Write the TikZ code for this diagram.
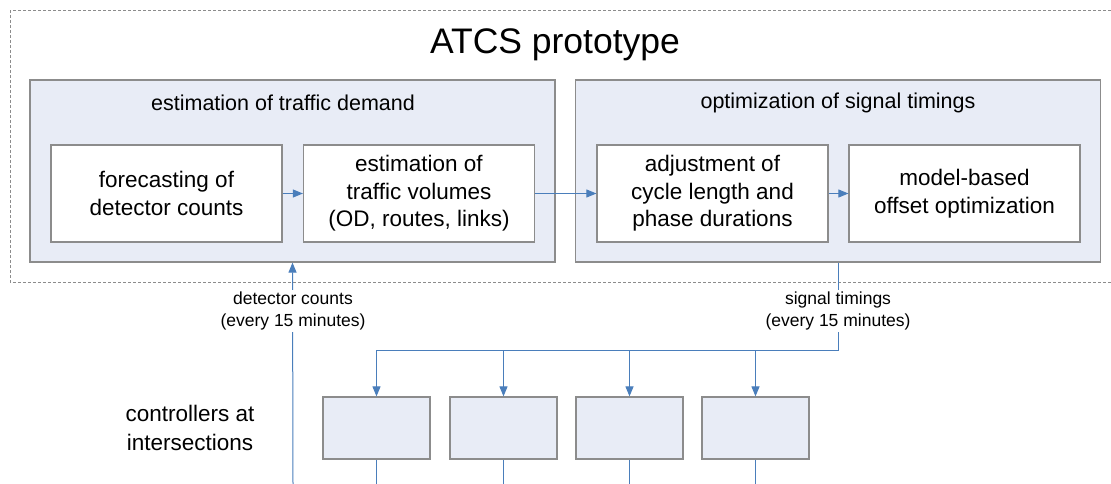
\documentclass[tikz,border=0pt]{standalone}
\usepackage{fontspec}
\setmainfont{Liberation Sans}
\usetikzlibrary{arrows.meta}
\definecolor{boxline}{HTML}{8C8C8C}
\definecolor{groupfill}{HTML}{E8ECF6}
\definecolor{flowblue}{HTML}{4A7EBB}
\tikzset{
  group/.style={draw=boxline, fill=groupfill, line width=1.2pt, minimum width=525pt, minimum height=182pt, inner sep=0pt},
  task/.style={draw=boxline, fill=white, line width=1.2pt, minimum width=231pt, minimum height=97pt, align=center, inner sep=0pt, font=\fontsize{22.5}{27.5}\selectfont},
  ctrlbox/.style={draw=boxline, fill=groupfill, line width=1.2pt, minimum width=107pt, minimum height=62pt, inner sep=0pt},
  flow/.style={draw=flowblue, line width=1pt},
  tip/.style={-{Triangle[length=10pt,width=8pt]}},
  rate/.style={fill=white, align=center, inner sep=2pt, font=\fontsize{17.5}{22}\selectfont}
}
\begin{document}
\begin{tikzpicture}[x=1pt,y=-1pt]
\useasboundingbox (0,0) rectangle (1111,484);

% Draw the prototype frame
\draw[boxline, line width=1pt, dash pattern=on 3pt off 2pt] (1111,11) -- (10,11) -- (10,282) -- (1111,282);
\node[font=\fontsize{35.5}{40}\selectfont] (title) at (555,45) {ATCS prototype};

% Groups
\node[group] (demand) at (292.5,171) {};
\node[group] (timings) at (838,171) {};
\node[font=\fontsize{21.5}{26}\selectfont] (demandtitle) at (283,103) {estimation of traffic demand};
\node[font=\fontsize{21.5}{26}\selectfont] (timingstitle) at (838,103) {optimization of signal timings};

% Tasks
\node[task] (forecast) at (166.5,193.5) {forecasting of\\detector counts};
\node[task] (volumes) at (419,193.5) {estimation of\\traffic volumes\\(OD, routes, links)};
\node[task] (cycle) at (712.5,193.5) {adjustment of\\cycle length and\\phase durations};
\node[task] (offset) at (964.5,193.5) {model-based\\offset optimization};

% Arrows between tasks
\draw[flow, tip] (forecast) -- (volumes);
\draw[flow, tip] (volumes) -- (cycle);
\draw[flow, tip] (cycle) -- (offset);

% Controllers
\node[align=center, font=\fontsize{22.5}{29}\selectfont] (ctrltext) at (190,428) {controllers at\\intersections};
\node[ctrlbox] (ctrl1) at (376.5,428) {};
\node[ctrlbox] (ctrl2) at (503.5,428) {};
\node[ctrlbox] (ctrl3) at (629.5,428) {};
\node[ctrlbox] (ctrl4) at (755.5,428) {};

% Detector counts up
\coordinate (detin) at (293,484);
\draw[flow, tip] (detin) -- (demand.south);
\node[rate] (detlabel) at (293,311) {detector counts\\(every 15 minutes)};

% Signal timings down
\coordinate (bus) at (376.5,350);
\draw[flow] (timings.south) |- (bus);
\node[rate] (siglabel) at (838,311) {signal timings\\(every 15 minutes)};
\foreach \i in {1,...,4} {
  \draw[flow, tip] (ctrl\i.north |- bus) -- (ctrl\i.north);
  \draw[flow] (ctrl\i.south) -- (ctrl\i.south |- detin);
}
\end{tikzpicture}
\end{document}
